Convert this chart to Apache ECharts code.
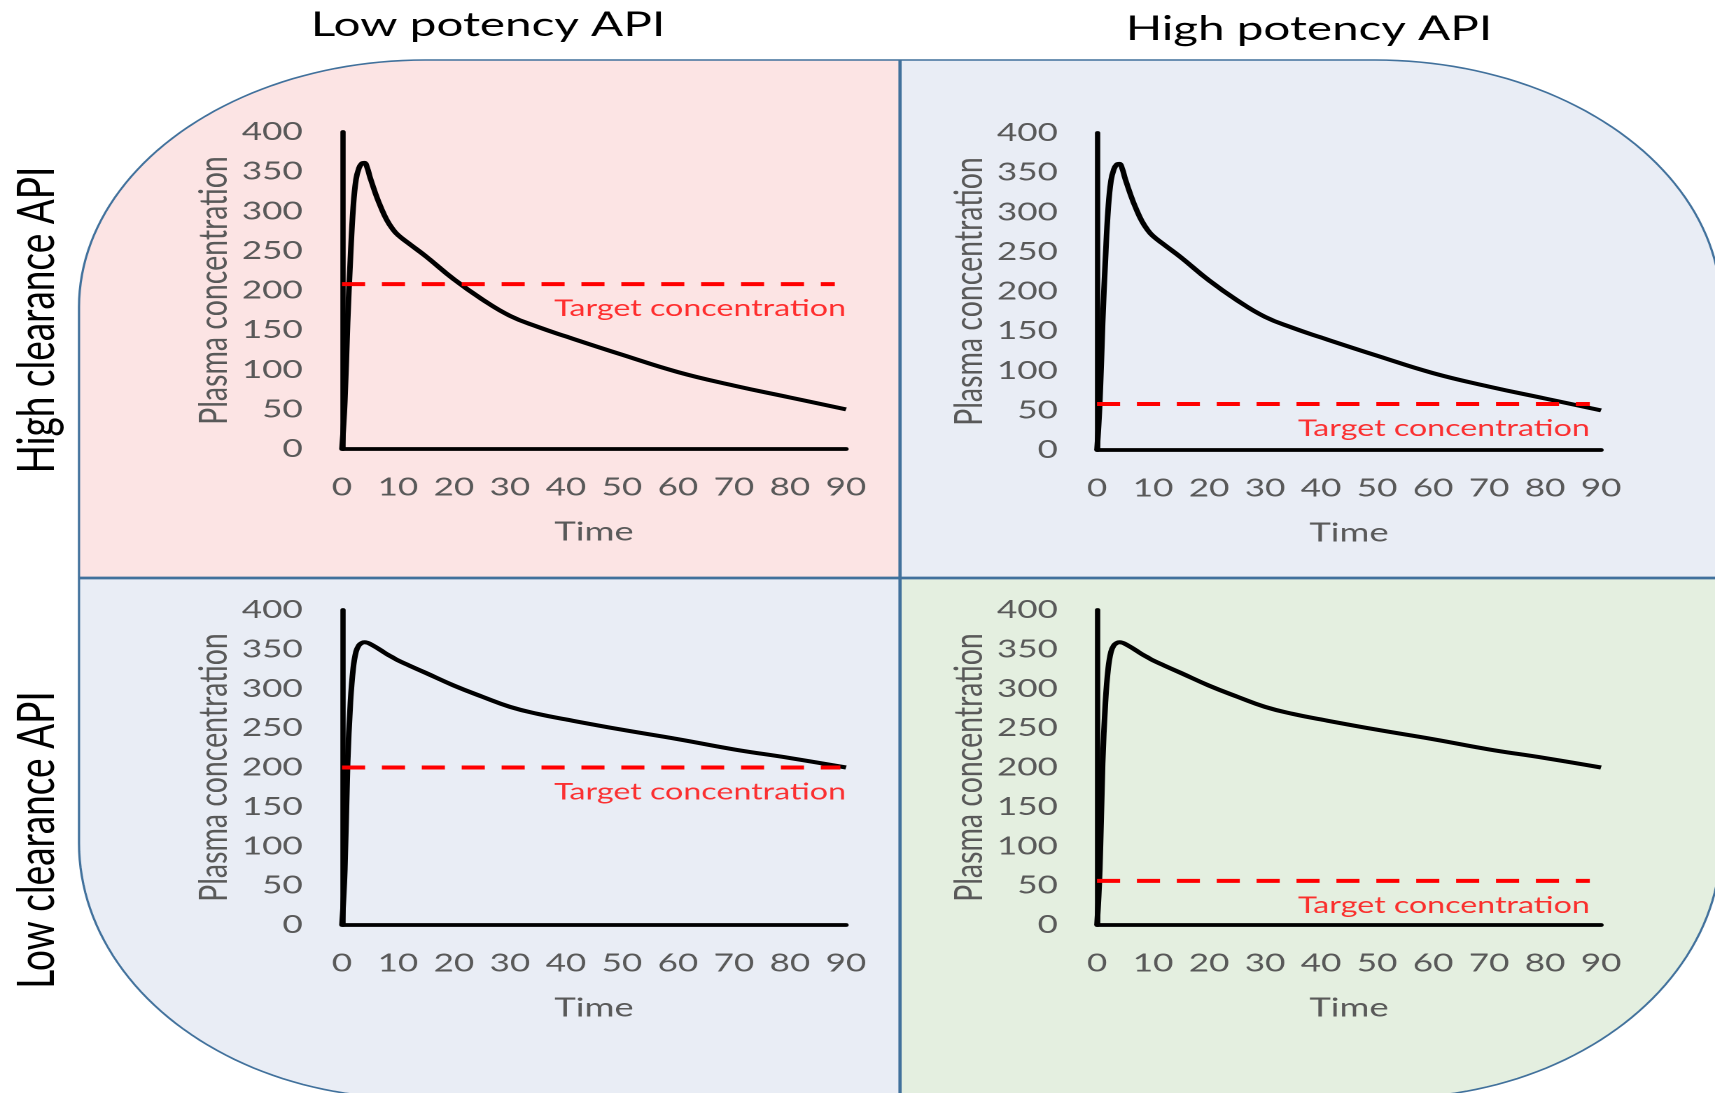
<!DOCTYPE html>
<html>
<head>
<meta charset="utf-8">
<script src="https://cdn.jsdelivr.net/npm/echarts@6/dist/echarts.min.js"></script>
<style>
html,body{margin:0;padding:0;background:#ffffff;overflow:hidden;width:1715px;height:1093px;}
#chart{position:absolute;left:0;top:0;width:1225px;height:1093px;transform:scaleX(1.4);transform-origin:0 0;}
</style>
</head>
<body>
<div id="chart"></div>
<script>
// ---------------- data ----------------
const timePoints = [0, 0.5, 1, 1.5, 2, 2.5, 3, 3.5, 4, 4.5, 5, 6, 7, 8, 9, 10, 12, 15, 20, 25, 30, 35, 40, 50, 60, 70, 80, 90];
const highClearanceConc = [0, 60, 160, 240, 305, 340, 354, 360, 361, 355, 343, 322, 304, 289, 278, 270, 259, 243, 214, 189, 168, 154, 142, 119, 97, 80, 65, 50];
const lowClearanceConc = [0, 70, 205, 282, 326, 347, 355, 358, 359, 358.5, 357, 353, 348.5, 344, 340, 336, 329.5, 320, 304, 290, 277, 268, 261, 248, 236, 223, 212, 200];

const columnTitles = ['Low potency API', 'High potency API'];
const rowTitles = ['High clearance API', 'Low clearance API'];

// panels: top-left, top-right, bottom-left, bottom-right
const targetLevels = [208, 58, 200, 56];
const targetEnds = [88, 88, 89, 88];
const targetLabelEnds = [90, 88, 90, 88];
const targetText = 'Target concentration';

const xAxisName = 'Time';
const yAxisName = 'Plasma concentration';
const xMin = 0, xMax = 90, xStep = 10;
const yMin = 0, yMax = 400, yStep = 50;

// ---------------- layout ----------------
const K = 1.4;                 // horizontal stretch of the original picture
const sx = v => v / K;

const panelBoxes = [
  {left: 342, top: 132, width: 504, height: 317},
  {left: 1097, top: 133, width: 504, height: 317},
  {left: 342, top: 610, width: 504, height: 315},
  {left: 1097, top: 610, width: 504, height: 315}
];
const panelCurves = [highClearanceConc, highClearanceConc, lowClearanceConc, lowClearanceConc];
const panelFills = ['#FCE4E4', '#E9EDF5', '#E9EDF5', '#E4EFE0'];

const FONT = 'Lato';
const GREY = '#595959';
const RED = '#FF0000';
const BORDER = '#41719C';

// background rounded shape (screen px)
const L = 79, T = 60, R = 1721, B = 1098, XM = 900, YM = 578;
const rx = 346, ry = 247, rxb = 330, ryb = 255;
const NSEG = 48;
function arc(cx, cy, ax, ay, a0, a1) {
  const pts = [];
  for (let k = 0; k <= NSEG; k++) {
    const a = a0 + (a1 - a0) * k / NSEG;
    pts.push([sx(cx + ax * Math.cos(a)), cy + ay * Math.sin(a)]);
  }
  return pts;
}
const arcTL = arc(L + rx, T + ry, rx, ry, Math.PI, 1.5 * Math.PI);
const arcTR = arc(R - rx, T + ry, rx, ry, 1.5 * Math.PI, 2 * Math.PI);
const arcBR = arc(R - rxb, B - ryb, rxb, ryb, 0, 0.5 * Math.PI);
const arcBL = arc(L + rxb, B - ryb, rxb, ryb, 0.5 * Math.PI, Math.PI);
const pt = (x, y) => [sx(x), y];

const quadPolys = [
  [pt(L, YM)].concat(arcTL, [pt(XM, T), pt(XM, YM)]),
  [pt(XM, T)].concat(arcTR, [pt(R, YM), pt(XM, YM)]),
  [pt(XM, YM), pt(XM, B)].concat(arcBL, [pt(L, YM)]),
  [pt(XM, YM), pt(R, YM)].concat(arcBR, [pt(XM, B)])
];
const outlinePoly = [].concat(arcTL, arcTR, arcBR, arcBL);

const graphic = [];
quadPolys.forEach((pts, i) => {
  graphic.push({type: 'polygon', z: -20, silent: true, shape: {points: pts}, style: {fill: panelFills[i]}});
});
graphic.push({type: 'polygon', z: -15, silent: true, shape: {points: outlinePoly}, style: {fill: 'none', stroke: BORDER, lineWidth: 1.6}});
graphic.push({type: 'line', z: -15, silent: true, shape: {x1: sx(XM), y1: T, x2: sx(XM), y2: B}, style: {stroke: BORDER, lineWidth: 2.3}});
graphic.push({type: 'line', z: -15, silent: true, shape: {x1: sx(L), y1: YM, x2: sx(R), y2: YM}, style: {stroke: BORDER, lineWidth: 2.8}});

const colTitlePos = [[488, 25], [1309, 29]];
columnTitles.forEach((t, i) => {
  graphic.push({type: 'text', z: 10, silent: true, x: sx(colTitlePos[i][0]), y: colTitlePos[i][1],
    style: {text: t, fill: '#000000', fontSize: 34, fontFamily: FONT, align: 'center', verticalAlign: 'middle'}});
});
const rowTitlePos = [[37, 320], [37, 840]];
rowTitles.forEach((t, i) => {
  graphic.push({type: 'text', z: 10, silent: true, x: sx(rowTitlePos[i][0]), y: rowTitlePos[i][1], rotation: Math.PI / 2,
    style: {text: t, fill: '#000000', fontSize: 37, fontFamily: FONT, align: 'center', verticalAlign: 'middle'}});
});

// ---------------- grids, axes, series ----------------
const grid = [], xAxis = [], yAxis = [], series = [];
panelBoxes.forEach((b, i) => {
  grid.push({left: sx(b.left), top: b.top, width: sx(b.width), height: b.height, containLabel: false});
  xAxis.push({
    gridIndex: i, type: 'value', min: xMin, max: xMax, interval: xStep,
    axisLine: {show: true, onZero: false, lineStyle: {color: '#000000', width: 3.8}},
    axisTick: {show: false}, splitLine: {show: false},
    axisLabel: {color: GREY, fontSize: 25, fontFamily: FONT, margin: 26},
    name: xAxisName, nameLocation: 'middle', nameGap: 70,
    nameTextStyle: {color: GREY, fontSize: 26, fontFamily: FONT}
  });
  yAxis.push({
    gridIndex: i, type: 'value', min: yMin, max: yMax, interval: yStep,
    axisLine: {show: true, onZero: false, lineStyle: {color: '#000000', width: 3.8}},
    axisTick: {show: false}, splitLine: {show: false},
    axisLabel: {color: GREY, fontSize: 25, fontFamily: FONT, margin: 28},
    name: yAxisName, nameLocation: 'middle', nameGap: 77,
    nameTextStyle: {color: GREY, fontSize: 28.5, fontFamily: FONT}
  });
  const conc = panelCurves[i];
  series.push({
    type: 'line', xAxisIndex: i, yAxisIndex: i, z: 3,
    data: timePoints.map((t, j) => [t, conc[j]]),
    symbol: 'none', showSymbol: false, smooth: 0.45,
    lineStyle: {color: '#000000', width: 4}
  });
  series.push({
    type: 'line', xAxisIndex: i, yAxisIndex: i, z: 4,
    data: [[xMin, targetLevels[i]], [targetEnds[i], targetLevels[i]]],
    symbol: 'none', showSymbol: false,
    lineStyle: {color: RED, width: 4, type: [16.5, 12], cap: 'butt'}
  });
  series.push({
    type: 'scatter', xAxisIndex: i, yAxisIndex: i, z: 5, silent: true,
    data: [[targetLabelEnds[i], targetLevels[i]]],
    symbolSize: 1, itemStyle: {color: 'rgba(0,0,0,0)'},
    label: {show: true, formatter: targetText, position: 'bottom', distance: 12.5, align: 'right',
      color: RED, fontSize: 23, fontFamily: FONT}
  });
});

const chart = echarts.init(document.getElementById('chart'), null, {renderer: 'canvas', devicePixelRatio: 2});
chart.setOption({
  animation: false,
  backgroundColor: '#ffffff',
  graphic: graphic,
  grid: grid,
  xAxis: xAxis,
  yAxis: yAxis,
  series: series
});
</script>
</body>
</html>
